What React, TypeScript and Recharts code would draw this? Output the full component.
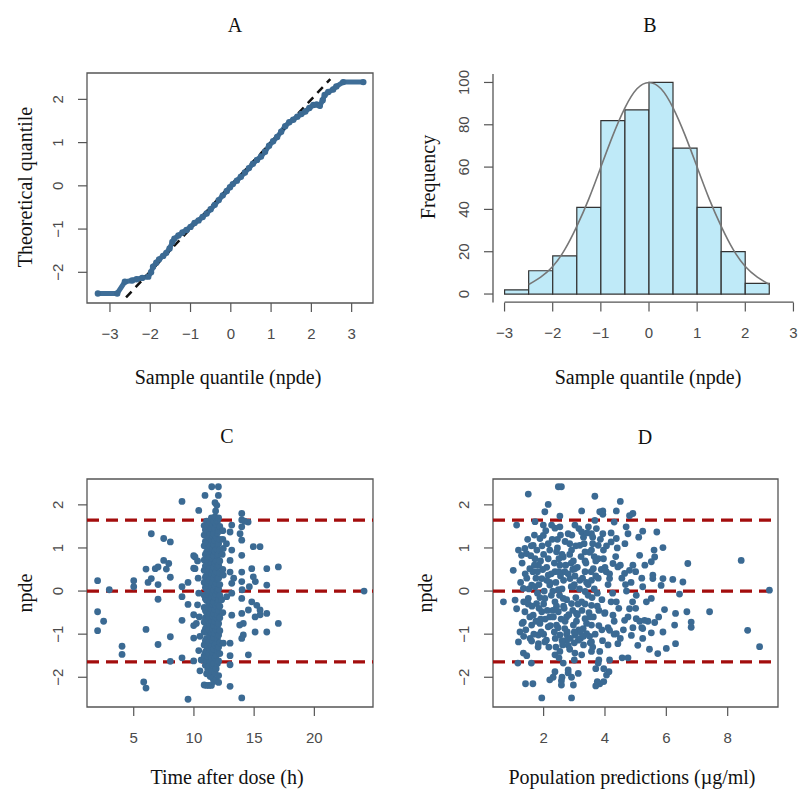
import React from "react";
import {
  ComposedChart,
  Scatter,
  Line,
  Bar,
  XAxis,
  YAxis,
  ReferenceLine,
  ReferenceArea,
} from "recharts";

// ---- panel A: QQ plot (sample quantile, theoretical quantile)
const qqPoints: [number, number][] = [
  [-3.3, -2.49], [-2.82, -2.49], [-2.63, -2.22], [-2.45, -2.19], [-2.34, -2.16],
  [-2.2, -2.13], [-2.05, -2.1], [-1.98, -2.0], [-1.93, -1.87], [-1.85, -1.78],
  [-1.78, -1.7], [-1.68, -1.62], [-1.6, -1.55], [-1.52, -1.45], [-1.45, -1.3],
  [-1.4, -1.22], [-1.3, -1.15], [-1.2, -1.08], [-1.1, -1.02], [-1.0, -0.95],
  [-0.9, -0.86], [-0.8, -0.8], [-0.7, -0.72], [-0.6, -0.64], [-0.5, -0.54],
  [-0.4, -0.44], [-0.3, -0.33], [-0.2, -0.22], [-0.1, -0.12], [-0.02, -0.03],
  [0.05, 0.04], [0.15, 0.12], [0.25, 0.21], [0.35, 0.31], [0.45, 0.41],
  [0.55, 0.51], [0.65, 0.6], [0.75, 0.68], [0.85, 0.79], [0.95, 0.93],
  [1.05, 1.03], [1.15, 1.13], [1.25, 1.25], [1.35, 1.38], [1.45, 1.47],
  [1.55, 1.53], [1.65, 1.6], [1.75, 1.66], [1.85, 1.72], [1.95, 1.8],
  [2.05, 1.87], [2.13, 1.88], [2.21, 1.85], [2.28, 1.98], [2.33, 2.1],
  [2.42, 2.17], [2.54, 2.23], [2.62, 2.3], [2.79, 2.4], [3.29, 2.4],
];
const qqLine: [number, number][] = [[-2.6, -2.58], [2.47, 2.47]];
const qqXTicks = [-3, -2, -1, 0, 1, 2, 3];
const qqYTicks = [-2, -1, 0, 1, 2];

// ---- panel B: histogram of npde
const binLabels = ["-3", "-2.5", "-2", "-1.5", "-1", "-0.5", "0", "0.5", "1", "1.5", "2", "2.5"];
const binCounts = [2, 11, 18, 41, 82, 87, 100, 69, 41, 20, 5, null];
const curveX = [-2.5, -2.25, -2, -1.75, -1.5, -1.25, -1, -0.75, -0.5, -0.25, 0, 0.25, 0.5, 0.75, 1, 1.25, 1.5, 1.75, 2, 2.25, 2.5];
const curveY = [4.5, 8, 13, 21, 32, 45, 60, 75, 88, 97, 100, 97, 88, 75, 60, 45, 32, 21, 13, 8, 4.5];
const histXTicks = [-3, -2, -1, 0, 1, 2, 3];
const histYTicks = [0, 20, 40, 60, 80, 100];

// ---- panel C: npde vs time after dose
const timePoints: [number, number][] = [
  [2.0, 0.24], [2.97, 0.03], [2.0, -0.48], [2.5, -0.7], [2.0, -0.92], [4.03, -1.28], [4.03, -1.47],
  [5.0, 0.24], [5.0, 0.1], [5.83, -2.11], [6.02, -2.25], [6.02, -0.89], [6.02, 0.51], [6.19, 0.2],
  [6.46, 0.29], [6.46, 1.33], [6.79, 0.52], [7.02, 0.56], [7.02, 0.15], [7.02, -0.19], [7.02, -1.24],
  [7.49, 1.22], [8.04, 1.14], [7.49, 0.71], [7.91, 0.64], [7.71, 0.51], [8.04, 0.32], [8.04, -1.06],
  [8.04, -1.63], [9.01, 2.08], [9.01, 0.1], [9.01, -0.13], [9.01, -0.68], [9.01, -1.55], [9.51, 0.2],
  [9.51, -0.31], [9.51, -2.51], [9.98, 0.82], [9.98, 0.53], [9.98, -0.55], [9.98, -1.09], [9.98, -1.62],
  [9.98, -0.8], [10.4, 1.87], [10.92, 2.22], [10.09, 0.79], [10.09, 0.52], [10.3, 0.7], [10.35, 0.3],
  [10.4, -0.05], [10.3, -0.32], [10.45, -0.6], [10.2, -0.75], [10.5, -1.05], [10.4, -1.38], [10.6, -1.6],
  [10.5, -1.85],
  [11.48, 2.42], [12.03, 2.42], [12.03, 2.22], [11.9, 1.99], [11.8, 1.86], [11.75, 2.05],
  [10.85, 1.52], [10.85, 1.3], [10.85, 1.05], [10.85, 0.72], [10.85, 0.48], [10.85, 0.2], [10.85, -0.1],
  [10.85, -0.38], [10.85, -0.72], [10.85, -0.95], [10.85, -1.25], [10.85, -1.5], [10.85, -2.18],
  [10.95, 1.42], [10.95, 1.15], [10.95, 0.85], [10.95, 0.58], [10.95, 0.32], [10.95, 0.08], [10.95, -0.18],
  [10.95, -0.45], [10.95, -0.62], [10.95, -0.88], [10.95, -1.15], [10.95, -1.42], [10.95, -1.72],
  [11.05, 1.62], [11.05, 1.4], [11.05, 1.12], [11.05, 0.9], [11.05, 0.6], [11.05, 0.35], [11.05, 0.05],
  [11.05, -0.22], [11.05, -0.5], [11.05, -0.82], [11.05, -1.1], [11.05, -1.38], [11.05, -1.62],
  [11.05, -1.92], [11.05, -2.19],
  [11.15, 1.5], [11.15, 1.25], [11.15, 0.98], [11.15, 0.72], [11.15, 0.45], [11.15, 0.18], [11.15, -0.08],
  [11.15, -0.38], [11.15, -0.66], [11.15, -0.95], [11.15, -1.25], [11.15, -1.52], [11.15, -1.82],
  [11.25, 1.55], [11.25, 1.25], [11.25, 1.0], [11.25, 0.78], [11.25, 0.5], [11.25, 0.25], [11.25, -0.02],
  [11.25, -0.3], [11.25, -0.6], [11.25, -0.9], [11.25, -1.18], [11.25, -1.45], [11.25, -1.75], [11.25, -2.19],
  [11.35, 1.6], [11.35, 1.32], [11.35, 1.05], [11.35, 0.8], [11.35, 0.55], [11.35, 0.28], [11.35, 0.0],
  [11.35, -0.25], [11.35, -0.52], [11.35, -0.78], [11.35, -1.05], [11.35, -1.35], [11.35, -1.65], [11.35, -1.98],
  [11.45, 1.7], [11.45, 1.45], [11.45, 1.18], [11.45, 0.92], [11.45, 0.66], [11.45, 0.4], [11.45, 0.12],
  [11.45, -0.15], [11.45, -0.42], [11.45, -0.7], [11.45, -0.98], [11.45, -1.28], [11.45, -1.55],
  [11.45, -1.85], [11.45, -2.19],
  [11.55, 1.55], [11.55, 1.28], [11.55, 0.98], [11.55, 0.75], [11.55, 0.48], [11.55, 0.2], [11.55, -0.05],
  [11.55, -0.3], [11.55, -0.58], [11.55, -0.88], [11.55, -1.15], [11.55, -1.42], [11.55, -1.72], [11.55, -2.02],
  [11.65, 1.62], [11.65, 1.33], [11.65, 1.08], [11.65, 0.82], [11.65, 0.55], [11.65, 0.3], [11.65, 0.02],
  [11.65, -0.25], [11.65, -0.52], [11.65, -0.8], [11.65, -1.08], [11.65, -1.35], [11.65, -1.68], [11.65, -2.1],
  [11.75, 1.72], [11.75, 1.45], [11.75, 1.18], [11.75, 0.92], [11.75, 0.65], [11.75, 0.38], [11.75, 0.12],
  [11.75, -0.15], [11.75, -0.42], [11.75, -0.7], [11.75, -0.98], [11.75, -1.25], [11.75, -1.55], [11.75, -1.9],
  [11.85, 1.55], [11.85, 1.25], [11.85, 0.98], [11.85, 0.7], [11.85, 0.45], [11.85, 0.18], [11.85, -0.08],
  [11.85, -0.35], [11.85, -0.62], [11.85, -0.9], [11.85, -1.2], [11.85, -1.5], [11.85, -1.8], [11.85, -2.05],
  [11.95, 1.62], [11.95, 1.35], [11.95, 1.08], [11.95, 0.82], [11.95, 0.55], [11.95, 0.28], [11.95, 0.0],
  [11.95, -0.28], [11.95, -0.55], [11.95, -0.82], [11.95, -1.1], [11.95, -1.38], [11.95, -1.68],
  [12.05, 1.7], [12.05, 1.4], [12.05, 1.1], [12.05, 0.85], [12.05, 0.6], [12.05, 0.3], [12.05, 0.05],
  [12.05, -0.2], [12.05, -0.45], [12.05, -0.75], [12.05, -1.02], [12.05, -1.3], [12.05, -1.62],
  [12.05, -1.96], [12.05, -2.12],
  [12.15, 1.5], [12.15, 1.2], [12.15, 0.95], [12.15, 0.7], [12.15, 0.42], [12.15, 0.15], [12.15, -0.1],
  [12.15, -0.35], [12.15, -0.62], [12.15, -0.92], [12.15, -1.2], [12.15, -1.45],
  [12.4, 1.4], [12.4, 1.2], [12.44, 0.99], [12.35, 0.85], [12.44, 0.37], [12.4, 0.5], [12.3, -0.2],
  [12.4, -0.5], [12.44, -1.21], [12.72, -0.13], [12.7, 1.1],
  [13.97, 1.8], [13.97, 1.65], [13.14, 1.53], [13.97, 1.49], [13.0, 1.37], [13.83, 1.33], [13.97, 1.18],
  [14.93, 1.03], [15.49, 1.03], [13.14, 0.95], [13.97, 0.83], [13.0, 0.71], [14.8, 0.52], [16.05, 0.52],
  [17.01, 0.56], [13.0, 0.44], [13.97, 0.44], [14.93, 0.33], [15.1, 0.22], [13.14, 0.18], [13.97, 0.22],
  [16.05, 0.14], [14.0, 0.03], [13.14, -0.05], [13.97, -0.17], [14.8, -0.25], [15.22, -0.33], [15.49, -0.44],
  [14.52, -0.44], [13.97, -0.52], [13.14, -0.56], [16.05, -0.52], [17.01, -0.75], [15.08, -0.6], [14.1, -0.75],
  [13.8, -0.79], [15.08, -0.95], [16.05, -0.95], [14.1, -1.02], [14.52, -1.48], [13.97, -1.1], [13.0, -1.21],
  [13.0, -1.71], [13.0, -1.5], [13.0, -2.21], [13.97, -2.48], [14.5, 1.6], [14.2, 1.62], [13.3, 0.3],
  [14.6, 0.1], [15.5, -0.55], [24.13, 0.0],
];
const timeTicks = [5, 10, 15, 20];

// ---- panel D: npde vs population predictions
const predPoints: [number, number][] = [
  [2.48, 2.42], [2.58, 2.42], [1.5, 2.25], [2.15, 2.01], [2.04, 1.84], [3.24, 1.86], [3.83, 1.84],
  [2.53, 1.74], [1.12, 1.53], [1.72, 1.61], [1.99, 1.53], [2.26, 1.53], [2.37, 1.46], [2.53, 1.49],
  [2.8, 1.33], [3.02, 1.53], [3.46, 1.49], [3.24, 1.37], [3.67, 1.64], [3.56, 1.33], [1.88, 1.22],
  [1.99, 1.29], [2.15, 1.1], [1.66, 1.06], [1.39, 0.99], [1.18, 0.95], [1.28, 0.83], [1.44, 0.87],
  [1.72, 0.75], [2.42, 0.91], [2.64, 0.79], [2.91, 0.95], [3.18, 1.06], [3.35, 0.91], [3.56, 0.95],
  [3.78, 1.06], [3.78, 0.75], [1.01, 0.48], [1.55, 0.52], [1.83, 0.6], [1.94, 0.29], [2.15, 0.37],
  [2.37, 0.45], [2.53, 0.6], [2.69, 0.45], [3.02, 0.52], [3.35, 0.45], [3.62, 0.52], [2.86, 0.29],
  [3.18, 0.25], [3.56, 0.25], [1.61, 0.14], [1.34, 0.06], [2.2, 0.14], [2.48, 0.03], [2.97, 0.1],
  [3.35, -0.01], [0.69, -0.25], [1.07, -0.21], [1.12, -0.41], [1.5, -0.17], [1.77, -0.29], [2.04, -0.17],
  [2.37, -0.25], [2.64, -0.17], [2.91, -0.29], [3.24, -0.25], [3.56, -0.33], [1.39, -0.48], [1.66, -0.56],
  [1.94, -0.48], [2.2, -0.6], [2.48, -0.48], [2.75, -0.6], [3.07, -0.52], [3.35, -0.64], [1.34, -0.72],
  [1.61, -0.79], [1.88, -0.75], [2.15, -0.83], [2.42, -0.79], [2.69, -0.87], [2.97, -0.79], [3.29, -0.87],
  [3.56, -0.79], [1.23, -0.95], [1.18, -1.18], [1.56, -1.1], [1.83, -1.02], [2.09, -1.14], [2.53, -1.02],
  [2.75, -1.14], [3.02, -1.02], [3.13, -1.14], [3.4, -0.99], [3.56, -1.18], [2.8, -1.26], [1.61, -1.16],
  [1.83, -1.22], [2.04, -1.18], [2.53, -1.4], [2.37, -1.48], [3.02, -1.44], [3.24, -1.48], [3.56, -1.4],
  [3.83, -1.4], [1.34, -1.44], [2.64, -1.67], [3.78, -1.67], [1.16, -1.67], [2.37, -1.87], [2.8, -1.83],
  [2.31, -2.0], [2.58, -2.08], [2.91, -2.0], [3.13, -1.91], [2.58, -2.18], [2.97, -2.18], [1.41, -2.15],
  [1.65, -2.15], [2.2, -2.06], [1.94, -2.48], [2.91, -2.48], [3.83, -2.15],
  [1.6, 1.05], [1.7, 0.6], [1.75, 0.3], [1.8, -0.05], [1.85, -0.4], [1.9, -0.65], [2.0, 0.85],
  [2.1, 0.55], [2.2, 0.2], [2.25, -0.1], [2.3, -0.45], [2.35, -0.95], [2.45, 1.2], [2.5, 0.75],
  [2.55, 0.35], [2.6, 0.05], [2.65, -0.35], [2.7, -0.7], [2.75, -1.0], [2.85, 1.1], [2.9, 0.65],
  [2.95, 0.5], [3.0, 0.15], [3.05, -0.15], [3.1, -0.55], [3.15, -0.9], [3.2, -1.1], [3.3, 1.25],
  [3.35, 0.7], [3.4, 0.2], [3.45, -0.1], [3.5, -0.6], [3.6, 1.1], [3.65, 0.8], [3.7, 0.35],
  [3.75, -0.05], [3.8, -0.45], [3.9, -0.9], [3.95, 0.95], [4.0, 0.55], [4.1, 0.15], [4.2, -0.25],
  [1.5, -0.3], [1.45, 0.3], [1.3, -0.75], [1.35, -1.05], [2.0, -1.0], [2.4, -1.3], [2.6, -1.15],
  [2.85, -1.35], [3.0, -0.95], [3.3, -1.25], [3.5, -1.05], [3.6, -1.3], [3.8, -1.6], [3.7, -1.8],
  [3.75, -2.1], [3.7, -2.2], [3.0, -1.6], [2.8, -1.9], [2.6, -2.0], [2.5, -1.55], [1.6, -1.67],
  [1.45, -1.5], [4.3, -1.0], [4.5, -1.1], [4.1, -1.25], [4.05, -1.95], [4.15, -1.6], [4.4, 1.0],
  [4.55, 0.3], [4.7, 0.0], [4.9, -0.25], [5.0, 0.45], [5.3, 0.6], [4.3, 1.6], [4.8, 1.75],
  [5.2, -0.85], [5.4, -0.7], [5.45, -1.35], [4.75, -1.55],
  [1.25, 0.2], [1.3, 0.65], [1.35, -0.25], [1.4, 0.4], [1.42, -0.9], [1.48, 1.2], [1.52, 0.05],
  [1.55, -0.6], [1.58, 0.82], [1.62, -0.35], [1.65, 0.45], [1.68, -1.0], [1.7, 1.3], [1.72, 0.1],
  [1.75, -0.7], [1.78, 0.95], [1.8, 0.45], [1.82, -1.3], [1.85, 0.15], [1.88, -0.15], [1.9, 0.7],
  [1.92, -0.95], [1.95, 1.05], [1.97, 0.5], [2.0, -0.3], [2.02, 0.0], [2.05, -0.65], [2.07, 1.4],
  [2.1, 0.25], [2.12, -0.45], [2.15, 0.75], [2.17, -1.3], [2.2, 0.95], [2.22, -0.8], [2.25, 0.4],
  [2.28, 1.2], [2.3, 0.0], [2.32, -0.6], [2.35, 0.65], [2.38, -1.1], [2.4, 0.2], [2.42, -0.35],
  [2.45, 1.0], [2.47, -0.85], [2.5, 0.45], [2.52, -0.1], [2.55, 1.3], [2.57, -0.65], [2.6, 0.85],
  [2.62, -1.25], [2.65, 0.25], [2.67, -0.4], [2.7, 1.15], [2.72, 0.6], [2.75, -0.2], [2.77, -0.95],
  [2.8, 0.4], [2.82, -0.55], [2.85, 0.85], [2.87, -1.1], [2.9, 0.1], [2.92, 1.3], [2.95, -0.45],
  [2.97, 0.7], [3.0, -1.2], [3.02, 0.35], [3.05, 1.05], [3.07, -0.7], [3.1, 0.55], [3.12, -0.3],
  [3.15, 1.45], [3.17, 0.05], [3.2, -0.95], [3.22, 0.8], [3.25, -0.45], [3.27, 0.3], [3.3, -1.05],
  [3.32, 1.1], [3.35, -0.3], [3.38, 0.65], [3.4, -0.75], [3.42, 1.35], [3.45, 0.15], [3.48, -0.5],
  [3.5, 0.9], [3.52, -1.2], [3.55, 0.45], [3.58, -0.15], [3.6, 1.25], [3.62, -0.6], [3.65, 0.05],
  [3.68, -1.0], [3.7, 0.7], [3.72, 1.45], [3.75, -0.35], [3.78, 0.3], [3.8, -0.8], [3.85, 1.2],
  [3.88, 0.5], [3.9, -0.2], [3.92, -1.15], [3.95, 0.75], [4.0, -0.5], [4.05, 1.05], [4.1, -0.85],
  [4.15, 0.4], [4.2, 1.35], [4.25, -0.05], [4.3, -0.7], [4.35, 0.8], [4.45, -0.4], [4.5, 0.6],
  [4.6, -0.9], [4.65, 1.1], [4.75, -0.6], [4.85, 0.2], [5.0, -0.4], [5.1, 1.25], [5.2, 0.3],
  [5.35, -0.25], [5.6, 0.95], [5.75, -0.6],
  [4.5, 2.08], [4.37, 1.86], [4.91, 1.8], [3.93, 1.86], [3.93, 1.78], [4.69, 1.49], [4.75, 1.33],
  [5.23, 1.39], [5.69, 1.37], [3.93, 1.33], [4.37, 1.22], [4.2, 1.14], [5.89, 1.01], [5.13, 0.83],
  [5.62, 0.79], [5.51, 0.68], [6.7, 0.64], [8.44, 0.71], [4.91, 0.6], [4.8, 0.48], [4.64, 0.41],
  [4.42, 0.56], [4.26, 0.64], [4.04, 0.45], [5.56, 0.37], [5.56, 0.29], [5.89, 0.29], [6.21, 0.27],
  [6.54, 0.21], [5.83, 0.13], [5.23, 0.1], [4.67, 0.15], [4.15, 0.29], [6.43, -0.07], [9.36, 0.02],
  [5.51, -0.17], [5.02, -0.1], [4.8, -0.41], [4.37, -0.25], [4.26, -0.56], [3.99, -0.52], [5.94, -0.43],
  [6.3, -0.52], [6.67, -0.48], [7.41, -0.48], [4.64, -0.68], [5.02, -0.64], [5.13, -0.7], [5.29, -0.68],
  [5.62, -0.73], [4.91, -0.85], [5.23, -0.87], [6.27, -0.79], [6.81, -0.72], [6.81, -0.84], [8.65, -0.91],
  [4.15, -0.91], [4.37, -0.99], [4.86, -1.03], [5.51, -0.97], [5.89, -0.95], [5.23, -1.1], [5.07, -1.26],
  [4.42, -1.22], [6.0, -1.33], [6.3, -1.22], [9.04, -1.29], [5.72, -1.45], [4.56, -1.55], [4.13, -1.87],
  [3.96, -1.8], [3.96, -2.1], [3.67, 2.2],
];
const predTicks = [2, 4, 6, 8];

const npdeTicks = [-2, -1, 0, 1, 2];
const npdeLimits = [-1.645, 0, 1.645];

const BLUE = "#3B6A93";
const RED = "#A30D0D";
const FRAME = "#555";
const SANS = '"Liberation Sans", Arial, sans-serif';
const SERIF = '"Liberation Serif", "Times New Roman", serif';

const toXY = (pts: [number, number][]) => pts.map(([x, y]) => ({ x, y }));

function fmt(v: number) {
  return v < 0 ? `\u2212${Math.abs(v)}` : `${v}`;
}

// eslint-disable-next-line @typescript-eslint/no-explicit-any
function XTick({ x, y, payload }: any) {
  return (
    <text x={x} y={y + 19} textAnchor="middle" dominantBaseline="central" fill="#4a4a4a" fontSize={15} fontFamily={SANS}>
      {fmt(payload.value)}
    </text>
  );
}

// eslint-disable-next-line @typescript-eslint/no-explicit-any
function YTick({ x, y, payload }: any) {
  const cx = x - 18;
  return (
    <text
      x={cx}
      y={y}
      transform={`rotate(-90 ${cx} ${y})`}
      textAnchor="middle"
      dominantBaseline="central"
      fill="#4a4a4a"
      fontSize={15}
      fontFamily={SANS}
    >
      {fmt(payload.value)}
    </text>
  );
}

// eslint-disable-next-line @typescript-eslint/no-explicit-any
function Dot(props: any) {
  return <circle cx={props.cx} cy={props.cy} r={3.4} fill={BLUE} />;
}

function Label({ x, y, text, size = 20, rotate = false }: { x: number; y: number; text: string; size?: number; rotate?: boolean }) {
  return (
    <div
      style={{
        position: "absolute",
        left: x,
        top: y,
        transform: `translate(-50%, -50%)${rotate ? " rotate(-90deg)" : ""}`,
        fontFamily: SERIF,
        fontSize: size,
        color: "#111",
        whiteSpace: "nowrap",
        lineHeight: 1,
        pointerEvents: "none",
      }}
    >
      {text}
    </div>
  );
}

const axisTick = { stroke: FRAME, strokeWidth: 1.2 };
const TICK = 9;

function QQPanel() {
  const xDomain = [-3.57, 3.53];
  const yDomain = [-2.71, 2.61];
  return (
    <ComposedChart width={400} height={390} margin={{ top: 73, right: 27, bottom: 0, left: 0 }}>
      <XAxis type="number" dataKey="x" domain={xDomain} ticks={qqXTicks} interval={0} allowDataOverflow
        axisLine={false} tickLine={axisTick} tickSize={TICK} tick={<XTick />} height={87} />
      <YAxis type="number" dataKey="y" domain={yDomain} ticks={qqYTicks} interval={0} allowDataOverflow
        axisLine={false} tickLine={axisTick} tickSize={TICK} tick={<YTick />} width={87} />
      <ReferenceArea x1={xDomain[0]} x2={xDomain[1]} y1={yDomain[0]} y2={yDomain[1]} fill="none" stroke={FRAME} strokeWidth={1.3} />
      <Line data={toXY(qqPoints)} dataKey="y" type="linear" stroke="#3F6E98" strokeWidth={5}
        dot={{ r: 3.2, fill: BLUE, stroke: "none" }} isAnimationActive={false} />
      <Line data={toXY(qqLine)} dataKey="y" type="linear" stroke="#111" strokeWidth={2.5}
        strokeDasharray="8 6" dot={false} isAnimationActive={false} />
    </ComposedChart>
  );
}

function HistPanel() {
  const xDomain = [-3.24, 3.24];
  const yDomain = [-4, 104];
  const bins = binLabels.map((label, i) => ({ label, count: binCounts[i] }));
  const curve = curveX.map((x, i) => ({ x, y: curveY[i] }));
  // R-style x axis line: from the first to the last tick only
  const xAxisLine = [{ x: histXTicks[0], y: -3.8 }, { x: histXTicks[histXTicks.length - 1], y: -3.8 }];
  return (
    <ComposedChart width={420} height={390} data={bins} barCategoryGap={0} barGap={0}
      margin={{ top: 74, right: 15, bottom: 0, left: 0 }}>
      <XAxis xAxisId="bins" dataKey="label" type="category" hide height={0} padding={{ left: 11.6, right: 11.6 }} />
      <XAxis xAxisId="num" type="number" dataKey="x" domain={xDomain} ticks={histXTicks} interval={0}
        axisLine={false} tickLine={axisTick} tickSize={TICK} tick={<XTick />} height={87.5} />
      <YAxis type="number" domain={yDomain} ticks={histYTicks} interval={0}
        axisLine={{ stroke: FRAME, strokeWidth: 1.3 }} tickLine={axisTick} tickSize={TICK} tick={<YTick />} width={93} />
      <Bar xAxisId="bins" dataKey="count" fill="#BFEAF8" stroke="#333" strokeWidth={1.2} isAnimationActive={false} />
      <Line xAxisId="num" data={curve} dataKey="y" type="natural" stroke="#777" strokeWidth={1.6}
        dot={false} isAnimationActive={false} />
      <Line xAxisId="num" data={xAxisLine} dataKey="y" type="linear" stroke="#545454" strokeWidth={1.3}
        dot={false} isAnimationActive={false} />
    </ComposedChart>
  );
}

function NpdePanel({ points, xDomain, xTicks, width, yAxisWidth, right }: {
  points: [number, number][];
  xDomain: number[];
  xTicks: number[];
  width: number;
  yAxisWidth: number;
  right: number;
}) {
  const yDomain = [-2.69, 2.6];
  return (
    <ComposedChart width={width} height={389} margin={{ top: 79, right, bottom: 0, left: 0 }}>
      <XAxis type="number" dataKey="x" domain={xDomain} ticks={xTicks} interval={0} allowDataOverflow
        axisLine={false} tickLine={axisTick} tickSize={TICK} tick={<XTick />} height={82} />
      <YAxis type="number" dataKey="y" domain={yDomain} ticks={npdeTicks} interval={0} allowDataOverflow
        axisLine={false} tickLine={axisTick} tickSize={TICK} tick={<YTick />} width={yAxisWidth} />
      <ReferenceArea x1={xDomain[0]} x2={xDomain[1]} y1={yDomain[0]} y2={yDomain[1]} fill="none" stroke={FRAME} strokeWidth={1.3} />
      <Scatter data={toXY(points)} shape={<Dot />} isAnimationActive={false} />
      {npdeLimits.map((v) => (
        <ReferenceLine key={v} y={v} stroke={RED} strokeWidth={3.3} strokeDasharray="12 7" />
      ))}
    </ComposedChart>
  );
}

export default function App() {
  return (
    <div style={pageStyle}>
      <div style={{ position: "absolute", left: 0, top: 400 }}>
        <NpdePanel points={timePoints} xDomain={[1.12, 24.87]} xTicks={timeTicks} width={400} yAxisWidth={87} right={27} />
      </div>
      <div style={{ position: "absolute", left: 400, top: 400 }}>
        <NpdePanel points={predPoints} xDomain={[0.35, 9.64]} xTicks={predTicks} width={399} yAxisWidth={93} right={21} />
      </div>
      <div style={{ position: "absolute", left: 0, top: 0 }}>
        <QQPanel />
      </div>
      <div style={{ position: "absolute", left: 400, top: 0 }}>
        <HistPanel />
      </div>

      <Label x={235} y={25} text="A" />
      <Label x={650} y={25} text="B" />
      <Label x={227} y={436} text="C" />
      <Label x={645} y={437} text="D" />

      <Label x={228} y={377} text="Sample quantile (npde)" />
      <Label x={648} y={377} text="Sample quantile (npde)" />
      <Label x={227} y={777} text="Time after dose (h)" />
      <Label x={632} y={777} text="Population predictions (µg/ml)" />

      <Label x={25} y={187} text="Theoretical quantile" rotate />
      <Label x={428} y={177} text="Frequency" rotate />
      <Label x={25} y={593} text="npde" rotate />
      <Label x={425} y={593} text="npde" rotate />
    </div>
  );
}

const pageStyle: React.CSSProperties = {
  position: "absolute",
  left: 0,
  top: 0,
  width: 799,
  height: 789,
  overflow: "hidden",
  background: "#fff",
};
